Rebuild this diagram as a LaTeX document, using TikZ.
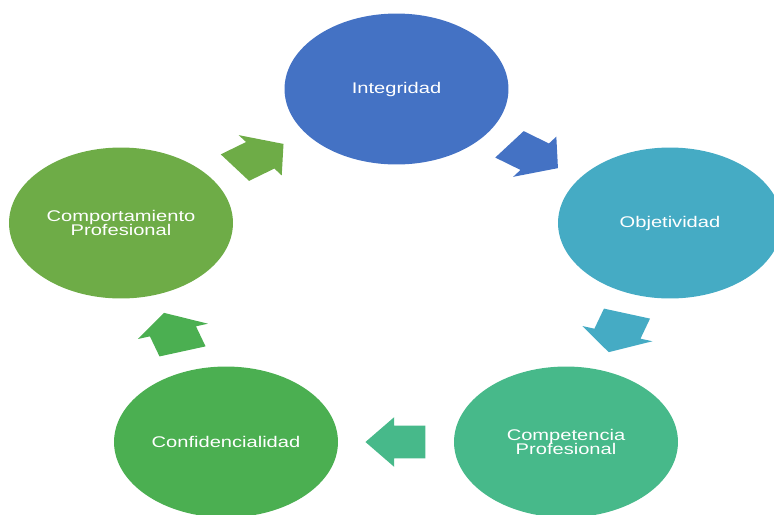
\documentclass[tikz,border=0pt]{standalone}
\usepackage{fontspec}
\setmainfont{Liberation Sans}
\newfontfamily\labelfont[FakeStretch=1.3]{Liberation Sans}
\usepackage{tikz}
\usetikzlibrary{shapes.geometric}
\usetikzlibrary{shapes.arrows, calc}

\definecolor{cInt}{HTML}{4472C4}
\definecolor{cObj}{HTML}{45ABC4}
\definecolor{cComp}{HTML}{47B98A}
\definecolor{cConf}{HTML}{4BAF51}
\definecolor{cCompt}{HTML}{6EAC47}

\newcommand{\stagefont}{\labelfont\fontsize{8.8}{7.5}\selectfont\lineskiplimit=-6pt\relax}

\tikzset{
stage/.style={ellipse,minimum width=4.48cm,minimum height=3.02cm,inner sep=0pt,text=white,align=center,font=\stagefont},
flow/.style={single arrow,minimum height=0.81cm,minimum width=0.98cm,single arrow head extend=0.17cm,single arrow tip angle=104,inner xsep=0pt,inner ysep=0.32cm,xscale=1.48},
flowdir/.style={rotate=#1,xshift=-0.12cm}
}

\begin{document}
\begin{tikzpicture}[x=0.02cm,y=-0.02cm]
\useasboundingbox (0,0) rectangle (774,514);
\node[stage,fill=cInt] (int) at (396.5,89) {Integridad};
\node[stage,fill=cObj] (obj) at (670,223) {Objetividad};
\node[stage,fill=cComp] (comp) at (566,442) {Competencia\\Profesional};
\node[stage,fill=cConf] (conf) at (226,442) {Confidencialidad};
\node[stage,fill=cCompt] (compt) at (121,223) {Comportamiento\\Profesional};

\node[flow,fill=cInt,flowdir=-36] (a1) at ($(int)!0.5!(obj)$) {};
\node[flow,fill=cObj,flowdir=-107.8] (a2) at ($(obj)!0.5!(comp)$) {};
\node[flow,fill=cComp,flowdir=180] (a3) at ($(comp)!0.5!(conf)$) {};
\node[flow,fill=cConf,flowdir=107.9] (a4) at ($(conf)!0.5!(compt)$) {};
\node[flow,fill=cCompt,flowdir=35.8] (a5) at ($(compt)!0.5!(int)$) {};

\end{tikzpicture}
\end{document}
